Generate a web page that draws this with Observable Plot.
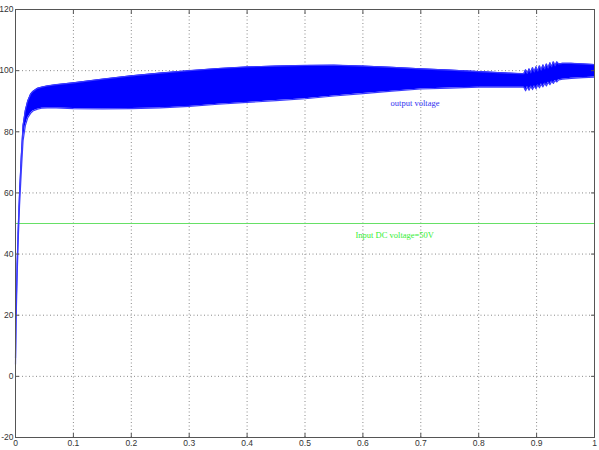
<!DOCTYPE html>
<html>
<head>
<meta charset="utf-8">
<script src="https://cdn.jsdelivr.net/npm/d3@7"></script>
<script src="https://cdn.jsdelivr.net/npm/@observablehq/plot@0.6"></script>
<style>
  html, body { margin: 0; padding: 0; background: #fff; }
  #chart svg { display: block; }
</style>
</head>
<body>
<div id="chart"></div>
<script>
// Time axis (s) of the envelope samples
const time = [
  0, 0.001, 0.003, 0.005, 0.007, 0.010, 0.013, 0.017, 0.021, 0.026, 0.030, 0.038, 0.045, 0.055, 0.07,
  0.1, 0.15, 0.2, 0.25, 0.3, 0.35, 0.4, 0.45, 0.5, 0.55, 0.6, 0.65, 0.7, 0.75, 0.8, 0.85, 0.875,
  0.878, 0.881, 0.884, 0.887, 0.890, 0.893, 0.896, 0.899, 0.902, 0.905, 0.908, 0.911, 0.914, 0.917,
  0.920, 0.923, 0.926, 0.929, 0.932, 0.935, 0.938,
  0.945, 0.96, 0.98, 1.0
];
// Upper envelope of output voltage ripple
const upperVoltage = [
  6, 22, 38, 50, 60, 72, 82, 87, 90, 92.3, 93.2, 94.2, 94.6, 95, 95.4,
  96, 97.2, 98.3, 99.2, 100, 100.7, 101.2, 101.5, 101.7, 101.8, 101.5, 101.1, 100.6, 100.2, 99.7, 99.2, 99.0,
  99, 100.3, 99.1, 100.6, 99.3, 101, 99.6, 101.3, 99.9, 101.6, 100.2, 101.9, 100.6, 102.2,
  100.9, 102.6, 101.3, 102.9, 101.6, 102.9, 102.2,
  102.4, 102.4, 102.2, 102.0
];
// Lower envelope of output voltage ripple
const lowerVoltage = [
  4, 18, 34, 46, 56, 67, 77, 82, 84.5, 86, 86.8, 87.4, 87.7, 87.8, 87.8,
  87.6, 87.5, 87.6, 87.8, 88.3, 89, 89.6, 90.2, 90.8, 91.7, 92.5, 93.3, 94.0, 94.3, 94.6, 94.6, 94.6,
  94.6, 93.4, 94.7, 93.6, 94.9, 93.8, 95, 94.1, 95.3, 94.4, 95.6, 94.7, 95.9, 95,
  96.2, 95.4, 96.5, 95.8, 96.8, 96.3, 97.0,
  97.2, 97.5, 97.7, 97.9
];
const inputVoltage = [50];
const xTicks = [0, 0.1, 0.2, 0.3, 0.4, 0.5, 0.6, 0.7, 0.8, 0.9, 1];
const yTicks = [-20, 0, 20, 40, 60, 80, 100, 120];
const xGrid = [0.1, 0.2, 0.3, 0.4, 0.5, 0.6, 0.7, 0.8, 0.9];
const yGrid = [0, 20, 40, 60, 80, 100];
const labels = [
  {x: 0.690, y: 89.2, text: "output voltage", color: "#3030f0"},
  {x: 0.655, y: 46.3, text: "Input DC voltage=50V", color: "#33ee33"}
];

const envelope = time.map((t, i) => ({t, hi: upperVoltage[i], lo: lowerVoltage[i]}));

const chart = Plot.plot({
  width: 599,
  height: 450,
  marginLeft: 15,
  marginRight: 5,
  marginTop: 9,
  marginBottom: 13,
  style: {background: "#fff", fontFamily: "'Liberation Sans', Arial, sans-serif"},
  x: {domain: [0, 1]},
  y: {domain: [-20, 120]},
  marks: [
    Plot.gridX(xGrid, {stroke: "#8a8a8a", strokeOpacity: 1, strokeDasharray: "1,2.5"}),
    Plot.gridY(yGrid, {stroke: "#8a8a8a", strokeOpacity: 1, strokeDasharray: "1,2.5"}),
    Plot.ruleY(inputVoltage, {stroke: "#66e066", strokeWidth: 1}),
    Plot.areaY(envelope, {x: "t", y1: "lo", y2: "hi", fill: "#0000ff", curve: "linear"}),
    Plot.lineY(envelope, {x: "t", y: "hi", stroke: "#3a3aff", strokeWidth: 1.2}),
    Plot.lineY(envelope, {x: "t", y: "lo", stroke: "#3a3aff", strokeWidth: 1.2}),
    Plot.frame({stroke: "#555", strokeWidth: 1}),
    Plot.axisX(xTicks, {anchor: "bottom", tickSize: -4, stroke: "#555", text: null}),
    Plot.axisX(xTicks, {anchor: "top", tickSize: -4, stroke: "#555", text: null}),
    Plot.axisY(yTicks, {anchor: "left", tickSize: -4, stroke: "#555", text: null}),
    Plot.axisY(yTicks, {anchor: "right", tickSize: -4, stroke: "#555", text: null}),
    Plot.axisX(xTicks, {anchor: "bottom", tickSize: 0, tickPadding: 2, fontSize: 8.5, fill: "#333",
      tickFormat: d => String(d), label: null}),
    Plot.axisY(yTicks, {anchor: "left", tickSize: 0, tickPadding: 2, fontSize: 8.5, fill: "#333",
      tickFormat: d => String(d), label: null}),
    Plot.text(labels, {x: "x", y: "y", text: "text", fill: "color", fontSize: 8.5,
      fontFamily: "'Liberation Serif', 'DejaVu Serif', serif"})
  ]
});
document.getElementById("chart").appendChild(chart);
</script>
</body>
</html>
